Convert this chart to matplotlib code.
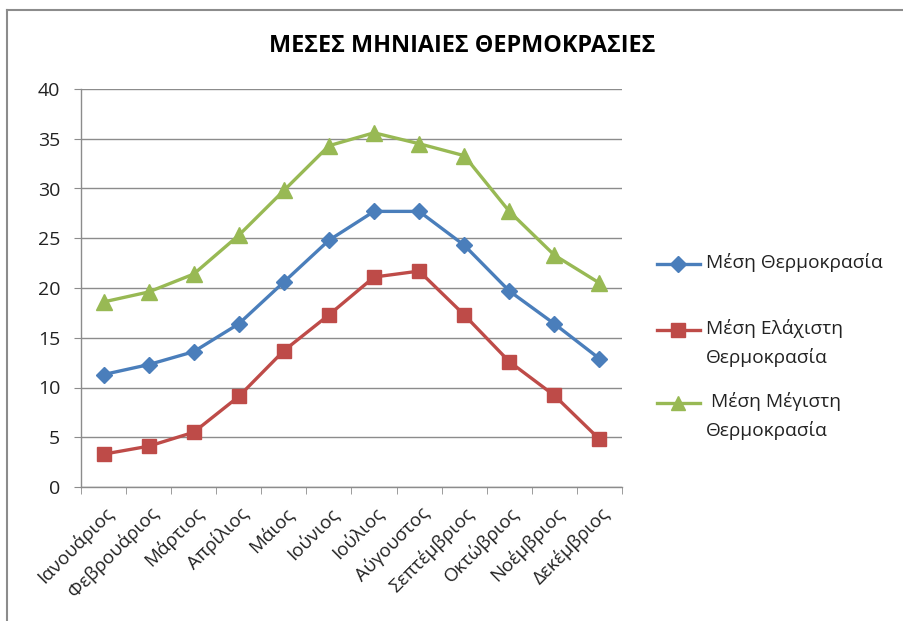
import matplotlib
matplotlib.use("Agg")
import matplotlib.pyplot as plt
from matplotlib.lines import Line2D

plt.rcParams['font.family'] = ['Open Sans', 'Noto Sans', 'DejaVu Sans']

months = ["Ιανουάριος", "Φεβρουάριος", "Μάρτιος", "Απρίλιος", "Μάιος", "Ιούνιος",
          "Ιούλιος", "Αύγουστος", "Σεπτέμβριος", "Οκτώβριος", "Νοέμβριος", "Δεκέμβριος"]
mean_temp = [11.3, 12.3, 13.6, 16.4, 20.6, 24.8, 27.7, 27.7, 24.3, 19.7, 16.4, 12.9]
min_temp = [3.3, 4.1, 5.5, 9.1, 13.7, 17.3, 21.1, 21.7, 17.3, 12.6, 9.2, 4.8]
max_temp = [18.6, 19.6, 21.4, 25.3, 29.8, 34.3, 35.6, 34.5, 33.3, 27.7, 23.3, 20.5]
labels = ["Μέση Θερμοκρασία", "Μέση Ελάχιστη\nΘερμοκρασία", " Μέση Μέγιστη\nΘερμοκρασία"]
title = "ΜΕΣΕΣ ΜΗΝΙΑΙΕΣ ΘΕΡΜΟΚΡΑΣΙΕΣ"

W, H = 904, 621
fig = plt.figure(figsize=(W/100, H/100), dpi=100)
ax = fig.add_axes([81/W, 1-487/H, (622-81)/W, (487-89)/H])

x = list(range(len(months)))
blue, red, green = "#4A7EBB", "#BE4B48", "#98B954"
styles = [(mean_temp, blue, "D", 8.5), (min_temp, red, "s", 10), (max_temp, green, "^", 11)]
for vals, c, m, ms in styles:
    ax.plot(x, vals, color=c, lw=2.4, marker=m, ms=ms, zorder=3)

ax.set_xlim(-0.5, len(months) - 0.5)
ax.set_ylim(0, 40)
ax.set_yticks(range(0, 41, 5))
ax.yaxis.grid(True, color="#8C8C8C", lw=1)
ax.set_axisbelow(True)
for s in ["top", "right"]:
    ax.spines[s].set_visible(False)
for s in ["left", "bottom"]:
    ax.spines[s].set_color("#8C8C8C")
    ax.spines[s].set_linewidth(1)

ax.set_xticks(x)
ax.set_xticklabels(months, rotation=45, ha="right", rotation_mode="anchor", fontsize=13.5, color="#222222")
ax.set_xticks([i - 0.5 for i in range(len(months) + 1)], minor=True)
ax.tick_params(axis="x", which="major", length=0, pad=12)
ax.tick_params(axis="x", which="minor", length=5, color="#8C8C8C", direction="out")
ax.tick_params(axis="y", length=5, color="#8C8C8C", pad=10, labelsize=14, labelcolor="#222222")

fig.text(462/W, 1-46/H, title, ha="center", va="center", fontsize=16.8, fontweight="bold")

# legend drawn manually (handle aligned with first text line, as in reference)
leg_y = [264, 330, 403]
for (vals, c, m, ms), lab, yy in zip(styles, labels, leg_y):
    fig.add_artist(Line2D([657/W, 700/W], [1-yy/H, 1-yy/H], transform=fig.transFigure,
                          color=c, lw=2.4))
    fig.add_artist(Line2D([678.5/W], [1-yy/H], transform=fig.transFigure, color=c,
                          marker=m, ms=ms*0.95, lw=0))
    fig.text(706/W, 1-(yy-11)/H, lab, ha="left", va="top", fontsize=13.8,
             color="#222222", linespacing=1.65)

# outer chart frame (top and left)
fig.add_artist(Line2D([7/W, 7/W], [0, 1-10/H], transform=fig.transFigure, color="#8C8C8C", lw=1.5))
fig.add_artist(Line2D([7/W, 1], [1-10/H, 1-10/H], transform=fig.transFigure, color="#8C8C8C", lw=1.5))

fig.savefig("out.png", dpi=100)
